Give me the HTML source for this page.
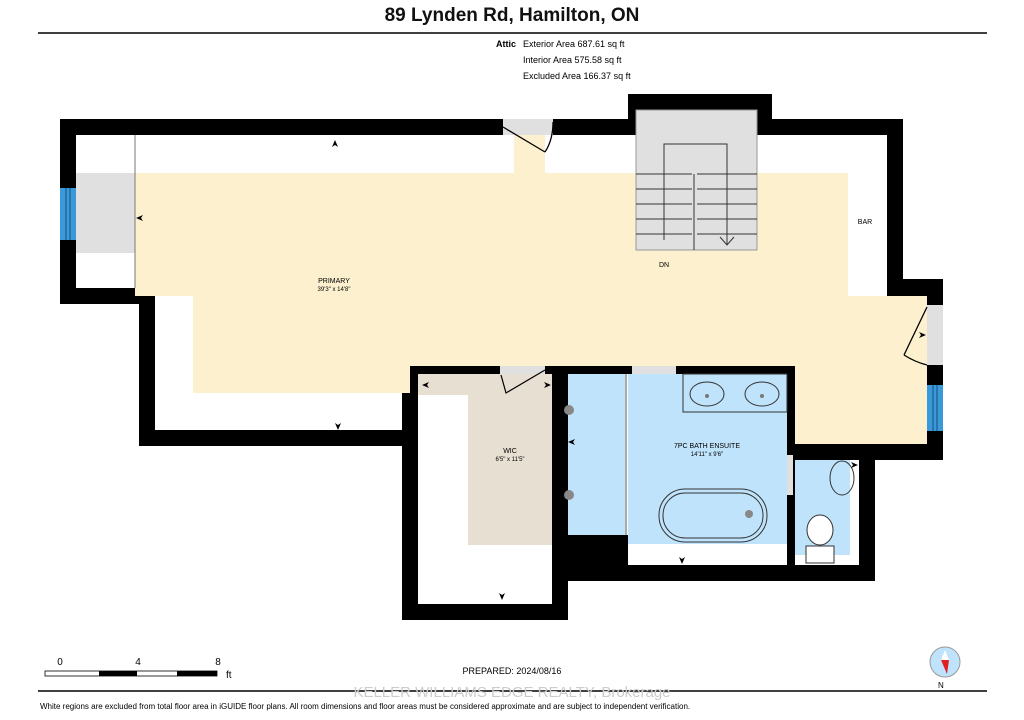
<!DOCTYPE html>
<html><head><meta charset="utf-8"><style>
body{margin:0;background:#fff;width:1024px;height:720px;overflow:hidden;font-family:"Liberation Sans",sans-serif}
svg{display:block}
</style></head><body>
<svg width="1024" height="720" viewBox="0 0 1024 720" font-family="Liberation Sans, sans-serif">
<text x="512" y="21" font-size="19" font-weight="bold" text-anchor="middle" fill="#111">89 Lynden Rd, Hamilton, ON</text>
<line x1="38" y1="33" x2="987" y2="33" stroke="#000" stroke-width="1.5"/>
<text x="496" y="47" font-size="9" font-weight="bold">Attic</text>
<text x="523" y="47" font-size="9">Exterior Area 687.61 sq ft</text>
<text x="523" y="63" font-size="9">Interior Area 575.58 sq ft</text>
<text x="523" y="79" font-size="9">Excluded Area 166.37 sq ft</text>

<g fill="#000">
<rect x="60" y="119" width="443" height="16"/>
<rect x="553" y="119" width="219" height="16"/>
<rect x="628" y="94" width="144" height="41"/>
<rect x="772" y="119" width="131" height="16"/>
<rect x="887" y="119" width="16" height="177"/>
<rect x="887" y="279" width="56" height="17"/>
<rect x="927" y="279" width="16" height="181"/>
<rect x="793" y="444" width="150" height="16"/>
<rect x="859" y="444" width="16" height="137"/>
<rect x="552" y="565" width="323" height="16"/>
<rect x="552" y="366" width="16" height="254"/>
<rect x="402" y="604" width="166" height="16"/>
<rect x="402" y="366" width="16" height="254"/>
<rect x="410" y="366" width="391" height="8"/>
<rect x="787" y="366" width="8" height="199"/>
<rect x="139" y="430" width="279" height="16"/>
<rect x="139" y="288" width="16" height="158"/>
<rect x="60" y="288" width="95" height="16"/>
<rect x="60" y="119" width="16" height="185"/>
<rect x="457" y="295" width="6" height="72"/>
</g>
<rect x="76" y="135" width="811" height="153" fill="#fff"/>
<rect x="155" y="288" width="247" height="142" fill="#fff"/>
<rect x="402" y="296" width="525" height="70" fill="#fff"/>
<rect x="795" y="374" width="132" height="70" fill="#fff"/>
<g fill="#fdf0cf">
<rect x="135" y="173" width="713" height="123"/>
<rect x="514" y="135" width="31" height="40"/>
<rect x="193" y="253" width="217" height="140"/>
<rect x="410" y="296" width="517" height="70"/>
<rect x="795" y="296" width="132" height="148"/>
</g>
<rect x="76" y="173" width="59" height="80" fill="#e0e0e0"/>
<line x1="135" y1="135" x2="135" y2="288" stroke="#777" stroke-width="1"/>
<rect x="60" y="188" width="16" height="52" fill="#3a9ad9"/>
<line x1="66" y1="188" x2="66" y2="240" stroke="#14507a"/><line x1="70" y1="188" x2="70" y2="240" stroke="#14507a"/>
<rect x="927" y="385" width="16" height="46" fill="#3a9ad9"/>
<line x1="933" y1="385" x2="933" y2="431" stroke="#14507a"/><line x1="937" y1="385" x2="937" y2="431" stroke="#14507a"/>
<rect x="927" y="305" width="16" height="60" fill="#e0e0e0"/>
<path d="M927 307 L904 355 M904 355 Q915 362 927 365" stroke="#000" fill="none" stroke-width="1.3"/>
<rect x="503" y="119" width="50" height="16" fill="#e0e0e0"/>
<path d="M503 127 L545 152 M545 152 Q553 140 553 122" stroke="#000" fill="none" stroke-width="1.3"/>
<rect x="636" y="110" width="121" height="140" fill="#e0e0e0" stroke="#999"/>
<g stroke="#333" stroke-width="1" fill="none">
<line x1="636" y1="174" x2="692" y2="174"/><line x1="636" y1="189" x2="692" y2="189"/><line x1="636" y1="204" x2="692" y2="204"/><line x1="636" y1="219" x2="692" y2="219"/><line x1="636" y1="234" x2="692" y2="234"/>
<line x1="697" y1="174" x2="757" y2="174"/><line x1="697" y1="189" x2="757" y2="189"/><line x1="697" y1="204" x2="757" y2="204"/><line x1="697" y1="219" x2="757" y2="219"/><line x1="697" y1="234" x2="757" y2="234"/>
<line x1="694" y1="174" x2="694" y2="250"/>
<path d="M664 240 V144 H727 V245 M720 237 L727 245 L734 237"/>
</g>
<text x="664" y="267" font-size="7" text-anchor="middle">DN</text>
<text x="865" y="224" font-size="7" text-anchor="middle">BAR</text>
<text x="334" y="283" font-size="7" text-anchor="middle">PRIMARY</text>
<text x="334" y="291" font-size="6" text-anchor="middle">39'3" x 14'8"</text>
<rect x="418" y="374" width="134" height="230" fill="#fff"/>
<rect x="418" y="374" width="134" height="21" fill="#e6dfd2"/>
<rect x="468" y="395" width="84" height="150" fill="#e6dfd2"/>
<text x="510" y="453" font-size="7" text-anchor="middle">WIC</text>
<text x="510" y="461" font-size="6" text-anchor="middle">6'5" x 11'5"</text>
<rect x="500" y="366" width="45" height="8" fill="#e0e0e0"/>
<path d="M545 370 L506 393 L501 375" stroke="#000" fill="none" stroke-width="1.2"/>
<rect x="568" y="374" width="219" height="191" fill="#fff"/>
<rect x="568" y="374" width="57" height="161" fill="#bfe3fb"/>
<rect x="628" y="374" width="159" height="170" fill="#bfe3fb"/>
<rect x="552" y="535" width="76" height="46" fill="#000"/>
<line x1="626" y1="374" x2="626" y2="535" stroke="#555"/>
<rect x="632" y="366" width="44" height="8" fill="#e0e0e0"/>
<rect x="683" y="374" width="104" height="38" fill="none" stroke="#333"/>
<ellipse cx="707" cy="394" rx="17" ry="12" fill="none" stroke="#333"/>
<ellipse cx="762" cy="394" rx="17" ry="12" fill="none" stroke="#333"/>
<circle cx="707" cy="396" r="2" fill="#777"/><circle cx="762" cy="396" r="2" fill="#777"/>
<rect x="659" y="489" width="108" height="53" rx="26" fill="none" stroke="#333"/>
<rect x="663" y="493" width="100" height="45" rx="22" fill="none" stroke="#333"/>
<circle cx="749" cy="514" r="4" fill="#888"/>
<circle cx="569" cy="410" r="5" fill="#888"/><circle cx="569" cy="495" r="5" fill="#888"/>
<text x="707" y="448" font-size="7" text-anchor="middle">7PC BATH ENSUITE</text>
<text x="707" y="456" font-size="6" text-anchor="middle">14'11" x 9'6"</text>
<rect x="795" y="460" width="64" height="105" fill="#fff"/>
<rect x="795" y="460" width="55" height="95" fill="#bfe3fb"/>
<rect x="787" y="455" width="6" height="40" fill="#e0e0e0"/>
<ellipse cx="842" cy="478" rx="12" ry="17" fill="none" stroke="#333"/>
<ellipse cx="820" cy="530" rx="13" ry="15" fill="#fff" stroke="#333"/>
<rect x="806" y="546" width="28" height="17" fill="#fff" stroke="#333"/>
<g fill="#000">
<path d="M335 140 l-3 7 l3 -2 l3 2z"/>
<path d="M136 218 l7 -3 l-2 3 l2 3z"/>
<path d="M338 430 l-3 -7 l3 2 l3 -2z"/>
<path d="M502 600 l-3 -7 l3 2 l3 -2z"/>
<path d="M682 564 l-3 -7 l3 2 l3 -2z"/>
<path d="M568 442 l7 -3 l-2 3 l2 3z"/>
<path d="M422 385 l7 -3 l-2 3 l2 3z"/>
<path d="M551 385 l-7 -3 l2 3 l-2 3z"/>
<path d="M858 465 l-7 -3 l2 3 l-2 3z"/>
<path d="M926 335 l-7 -3 l2 3 l-2 3z"/>
</g>
<text x="60" y="665" font-size="10" text-anchor="middle">0</text>
<text x="138" y="665" font-size="10" text-anchor="middle">4</text>
<text x="218" y="665" font-size="10" text-anchor="middle">8</text>
<rect x="45" y="671" width="172" height="5" fill="#fff" stroke="#000" stroke-width="0.8"/>
<rect x="99" y="671" width="38" height="5" fill="#000"/>
<rect x="177" y="671" width="40" height="5" fill="#000"/>
<text x="226" y="678" font-size="10">ft</text>
<text x="512" y="674" font-size="9" text-anchor="middle">PREPARED: 2024/08/16</text>
<circle cx="945" cy="662" r="15" fill="#bfe3fb" stroke="#999"/>
<path d="M945 650 l4 10 l-8 0z" fill="#fff"/><path d="M941 660 l8 0 l-2 14z" fill="#e02020"/>
<text x="938" y="688" font-size="8">N</text>
<line x1="38" y1="691" x2="987" y2="691" stroke="#000" stroke-width="1.5"/>
<text x="512" y="697" font-size="15" fill="#ccc" text-anchor="middle">KELLER WILLIAMS EDGE REALTY, Brokerage</text>
<text x="40" y="709" font-size="8">White regions are excluded from total floor area in iGUIDE floor plans. All room dimensions and floor areas must be considered approximate and are subject to independent verification.</text>
</svg>
</body></html>
